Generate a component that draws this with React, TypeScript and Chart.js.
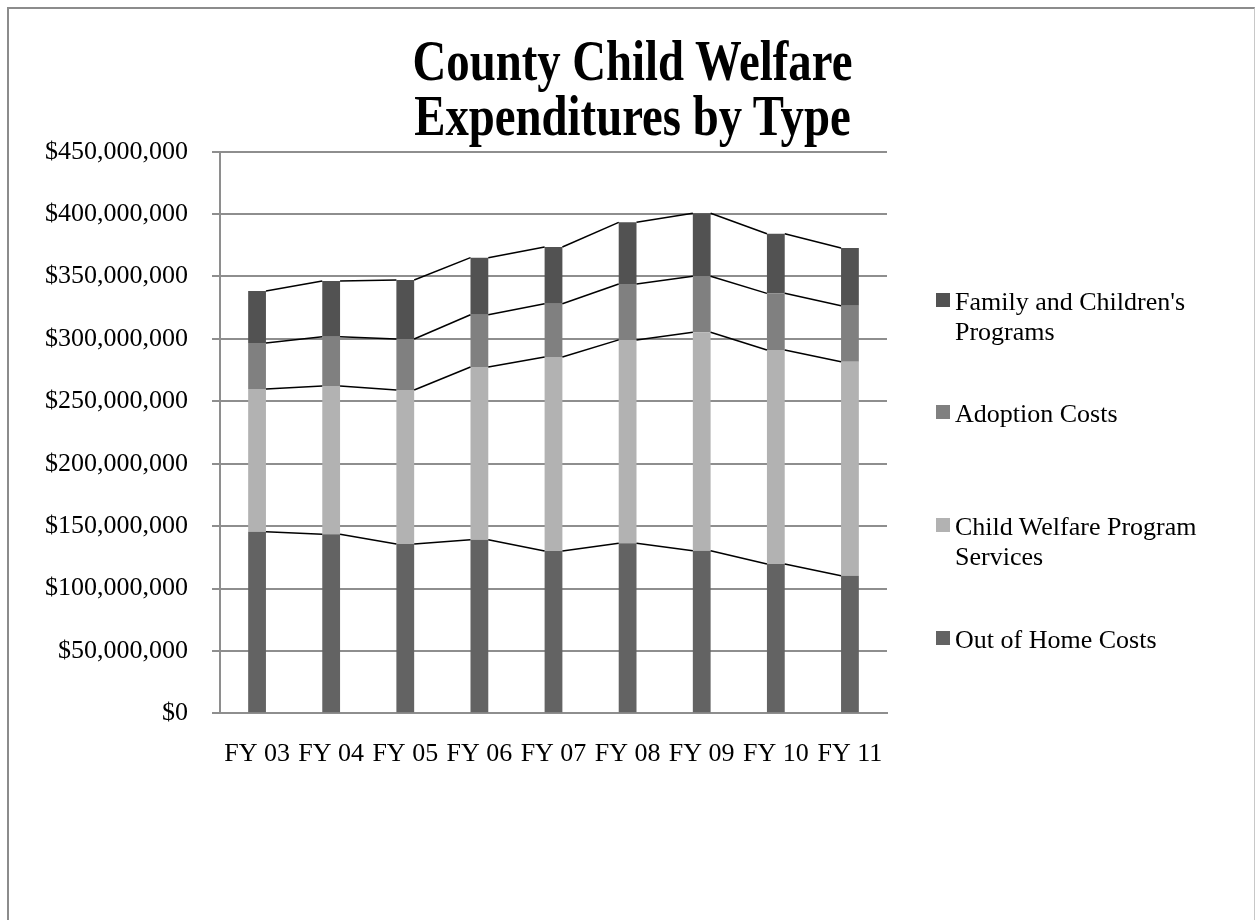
import React, { useEffect, useRef } from "react";
import { Chart, registerables } from "chart.js";

Chart.register(...registerables);

const TITLE_LINES = ["County Child Welfare", "Expenditures by Type"];

const categories = ["FY 03", "FY 04", "FY 05", "FY 06", "FY 07", "FY 08", "FY 09", "FY 10", "FY 11"];

const outOfHomeCosts = [145500000, 143400000, 135700000, 139100000, 130000000, 136200000, 130300000, 119600000, 110300000];
const childWelfareProgramServices = [114400000, 118900000, 123400000, 138400000, 155500000, 163000000, 175000000, 171500000, 171400000];
const adoptionCosts = [36800000, 39500000, 40800000, 41900000, 42700000, 44800000, 44900000, 45400000, 44900000];
const familyAndChildrensPrograms = [41700000, 44600000, 47300000, 45700000, 45400000, 49400000, 50500000, 47800000, 46300000];

const seriesNames = ["Out of Home Costs", "Child Welfare Program Services", "Adoption Costs", "Family and Children's Programs"];
const seriesColors = ["#636363", "#b2b2b2", "#808080", "#525252"];
const seriesValues = [outOfHomeCosts, childWelfareProgramServices, adoptionCosts, familyAndChildrensPrograms];

const yMin = 0;
const yMax = 450000000;
const yStep = 50000000;

const FONT = "'Liberation Serif', 'Times New Roman', serif";
const GRID = "#8e8e8e";

const seriesLinesPlugin = {
  id: "seriesLines",
  afterDatasetsDraw(chart: any) {
    const ctx = chart.ctx;
    ctx.save();
    ctx.strokeStyle = "#000";
    ctx.lineWidth = 1.5;
    chart.data.datasets.forEach((_ds: any, di: number) => {
      const meta = chart.getDatasetMeta(di);
      const els = meta.data;
      for (let i = 0; i < els.length - 1; i++) {
        const a = els[i];
        const b = els[i + 1];
        ctx.beginPath();
        ctx.moveTo(a.x + a.width / 2, a.y);
        ctx.lineTo(b.x - b.width / 2, b.y);
        ctx.stroke();
      }
    });
    ctx.restore();
  },
};

const legendTops = [616.5, 503.9, 390.9, 278.9];

export default function App() {
  const canvasRef = useRef<HTMLCanvasElement | null>(null);

  useEffect(() => {
    if (!canvasRef.current) return;
    const chart = new Chart(canvasRef.current, {
      type: "bar",
      data: {
        labels: categories,
        datasets: seriesValues.map((vals, i) => ({
          label: seriesNames[i],
          data: vals,
          backgroundColor: seriesColors[i],
          borderWidth: 0,
          barPercentage: 0.24,
          categoryPercentage: 1,
        })),
      },
      options: {
        responsive: false,
        animation: false,
        events: [],
        layout: { padding: { top: 143.7, right: 366, bottom: 0, left: 0 } },
        plugins: {
          legend: { display: false },
          title: { display: false },
          tooltip: { enabled: false },
        },
        scales: {
          x: {
            stacked: true,
            grid: { display: false, drawTicks: false },
            border: { display: true, color: GRID, width: 2 },
            ticks: {
              color: "#000",
              font: { family: FONT, size: 26 },
              padding: 25,
              maxRotation: 0,
              autoSkip: false,
            },
            afterFit: (s: any) => {
              s.height = 900 - 705.3;
            },
          },
          y: {
            stacked: true,
            min: yMin,
            max: yMax,
            grid: { color: GRID, lineWidth: 2, tickLength: 8, drawTicks: true },
            border: { display: true, color: GRID, width: 2 },
            ticks: {
              stepSize: yStep,
              color: "#000",
              font: { family: FONT, size: 26 },
              padding: 24,
              callback: (v: any) => "$" + Number(v).toLocaleString("en-US"),
            },
            afterFit: (s: any) => {
              s.width = 212;
            },
          },
        },
      },
      plugins: [seriesLinesPlugin],
    });
    return () => chart.destroy();
  }, []);

  return (
    <div style={{ position: "relative", width: 1245, height: 900 }}>
      <div
        style={{
          position: "fixed",
          left: 7,
          top: 7,
          width: 1248,
          height: 913,
          boxSizing: "border-box",
          borderLeft: "2px solid #8c8c8c",
          borderTop: "2px solid #8c8c8c",
          borderRight: "1px solid #c8c8c8",
          pointerEvents: "none",
          zIndex: 5,
        }}
      />
      <canvas ref={canvasRef} width={1245} height={900} style={{ position: "absolute", left: 0, top: 0 }} />
      <div
        style={{
          position: "absolute",
          left: 4,
          top: 25.3,
          width: 1241,
          textAlign: "center",
          fontFamily: FONT,
          fontWeight: "bold",
          fontSize: 57,
          lineHeight: "55px",
          color: "#000",
          transform: "scaleX(0.82)",
          transformOrigin: "center",
          whiteSpace: "nowrap",
        }}
      >
        {TITLE_LINES.map((t, i) => (
          <div key={i}>{t}</div>
        ))}
      </div>
      {seriesNames.map((name, i) => (
        <div key={name} style={{ position: "absolute", left: 928, top: legendTops[i] }}>
          <div
            style={{
              position: "absolute",
              left: 0,
              top: 6.4,
              width: 14,
              height: 14,
              background: seriesColors[i],
            }}
          />
          <div
            style={{
              position: "absolute",
              left: 19,
              top: 0,
              width: 262,
              fontFamily: FONT,
              fontSize: 26,
              lineHeight: "30px",
              color: "#000",
            }}
          >
            {name}
          </div>
        </div>
      ))}
    </div>
  );
}
